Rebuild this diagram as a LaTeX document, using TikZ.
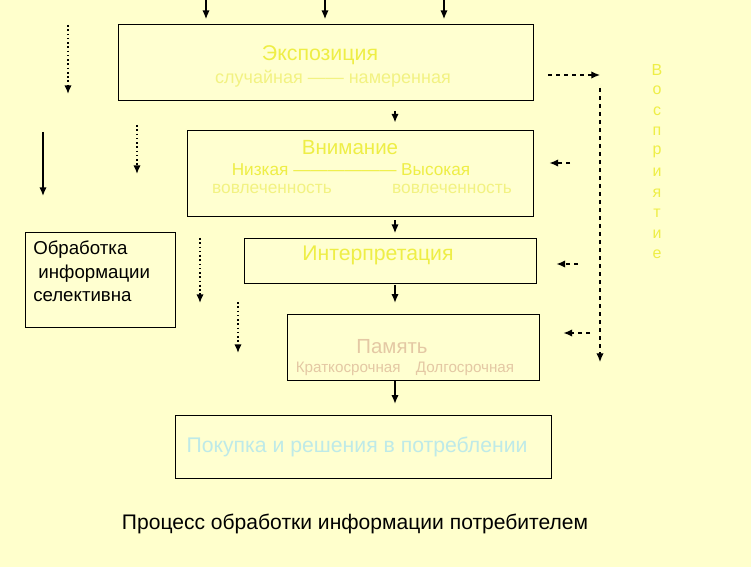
\documentclass[tikz,border=0pt]{standalone}
\usepackage{fontspec}
\setmainfont{Liberation Sans}
\usetikzlibrary{arrows.meta,positioning}
\definecolor{bgyellow}{RGB}{255,255,204}
\definecolor{boxfill}{RGB}{255,255,208}
\definecolor{txtyellow}{RGB}{238,238,70}
\definecolor{txtpale}{RGB}{242,242,130}
\definecolor{txtmem}{RGB}{228,200,164}
\definecolor{txtbuy}{RGB}{190,234,232}
\tikzset{
  box/.style={draw=black, fill=boxfill, line width=0.75pt, inner sep=0pt},
  arr/.style={-{Latex[length=6.5pt,width=5.5pt]}, line width=1.1pt},
  dotarr/.style={-{Latex[length=6.5pt,width=5.5pt]}, line width=1.2pt, dotted},
  dasharr/.style={-{Latex[length=6.5pt,width=5.5pt]}, line width=0.9pt, dashed}
}
\begin{document}
\begin{tikzpicture}[x=0.75pt,y=0.75pt,yscale=-1,xscale=1]
		\path[use as bounding box, fill=bgyellow] (0,0) rectangle (751,567);
		
		% Boxes
		\node (expo) [box, minimum width=311.25pt, minimum height=57pt] at (325.5,63) {};
		\node (attn) [box, minimum width=259.5pt, minimum height=64.5pt] at (360,174) {};
		\node (interp) [box, minimum width=219pt, minimum height=33pt] at (390,261) {};
		\node (mem) [box, minimum width=189pt, minimum height=49.5pt] at (413,347) {};
		\node (buy) [box, minimum width=282pt, minimum height=47.25pt] at (363,446.5) {};
		\node (sel) [box, minimum width=112.5pt, minimum height=70.5pt] at (100,280) {};
		
		% Box texts
		\node (expot) [color=txtyellow, font=\fontsize{16}{18}\selectfont] at (320,55) {Экспозиция};
		\node (expos) [color=txtpale, font=\fontsize{13.5}{15}\selectfont] at (333,79) {случайная ------ намеренная};
		\node (attnt) [color=txtyellow, font=\fontsize{15.4}{17}\selectfont] at (350,148) {Внимание};
		\node (attns) [color=txtyellow, font=\fontsize{12.9}{15}\selectfont] at (351,170) {Низкая ------------------ Высокая};
		\node (attnl) [color=txtpale, font=\fontsize{13}{15}\selectfont] at (272,189) {вовлеченность};
		\node (attnr) [color=txtpale, font=\fontsize{13}{15}\selectfont] at (452,189) {вовлеченность};
		\node (interpt) [color=txtyellow, font=\fontsize{15.9}{18}\selectfont] at (378,255) {Интерпретация};
		\node (memt) [color=txtmem, font=\fontsize{15.3}{17}\selectfont] at (392,347) {Память};
		\node (mems) [color=txtmem, font=\fontsize{11.4}{13}\selectfont] at (405,369) {Краткосрочная\quad Долгосрочная};
		\node (buyt) [color=txtbuy, font=\fontsize{15.9}{18}\selectfont] at (357,447) {Покупка и решения в потреблении};
		\node (selt) [anchor=north west, align=left, inner sep=0pt, font=\fontsize{14}{17.6}\selectfont] at (33,241) {Обработка\\\ информации\\селективна};
		\node (caption) [font=\fontsize{15.8}{18}\selectfont] at (355,524) {Процесс обработки информации потребителем};
		
		% Vertical word on the right
		\foreach \l [count=\i] in {В,о,с,п,р,и,я,т,и,е}
		  \node (v\i) [color=txtyellow, font=\fontsize{12}{13}\selectfont] at (657,{70+20.5*(\i-1)}) {\l};
		
		% Main flow
		\coordinate (mid) at (395,0);
		\draw[arr, shorten <=7pt, shorten >=6pt] (expo.south -| mid) -- (attn.north -| mid);
		\draw[arr, shorten <=2pt, shorten >=4pt] (attn.south -| mid) -- (interp.north -| mid);
		\draw[arr, shorten <=1pt, shorten >=8pt] (interp.south -| mid) -- (mem.north -| mid);
		\draw[arr, shorten >=8pt] (mem.south -| mid) -- (buy.north -| mid);
		
		% Inputs from the top
		\foreach \x [count=\i] in {206,325,444}{
		  \coordinate (in\i) at (\x,0);
		  \draw[arr, shorten >=4pt] (in\i) -- (expo.north -| in\i);
		}
		
		% Left arrows
		\coordinate (la1) at (68,25);  \coordinate (lb1) at (68,94);
		\coordinate (la2) at (43,132); \coordinate (lb2) at (43,196);
		\coordinate (la3) at (137,125); \coordinate (lb3) at (137,174);
		\coordinate (la4) at (200,238); \coordinate (lb4) at (200,303);
		\coordinate (la5) at (238,302); \coordinate (lb5) at (238,353);
		\draw[dotarr] (la1) -- (lb1);
		\draw[arr] (la2) -- (lb2);
		\draw[dotarr] (la3) -- (lb3);
		\draw[dotarr] (la4) -- (lb4);
		\draw[dotarr] (la5) -- (lb5);
		
		% Right arrows
		\coordinate (ra) at (600,75); \coordinate (rtop) at (600,88); \coordinate (rbot) at (600,362);
		\draw[dasharr, shorten <=11pt] (expo.east |- ra) -- (ra);
		\draw[dasharr] (rtop) -- (rbot);
		\coordinate (rb1) at (570,163);
		\coordinate (rb2) at (578,264);
		\coordinate (rb3) at (590,333);
		\draw[dasharr, shorten >=12pt] (rb1) -- (attn.east |- rb1);
		\draw[dasharr, shorten >=15pt] (rb2) -- (interp.east |- rb2);
		\draw[dasharr, shorten >=18pt] (rb3) -- (mem.east |- rb3);
		
\end{tikzpicture}
\end{document}
